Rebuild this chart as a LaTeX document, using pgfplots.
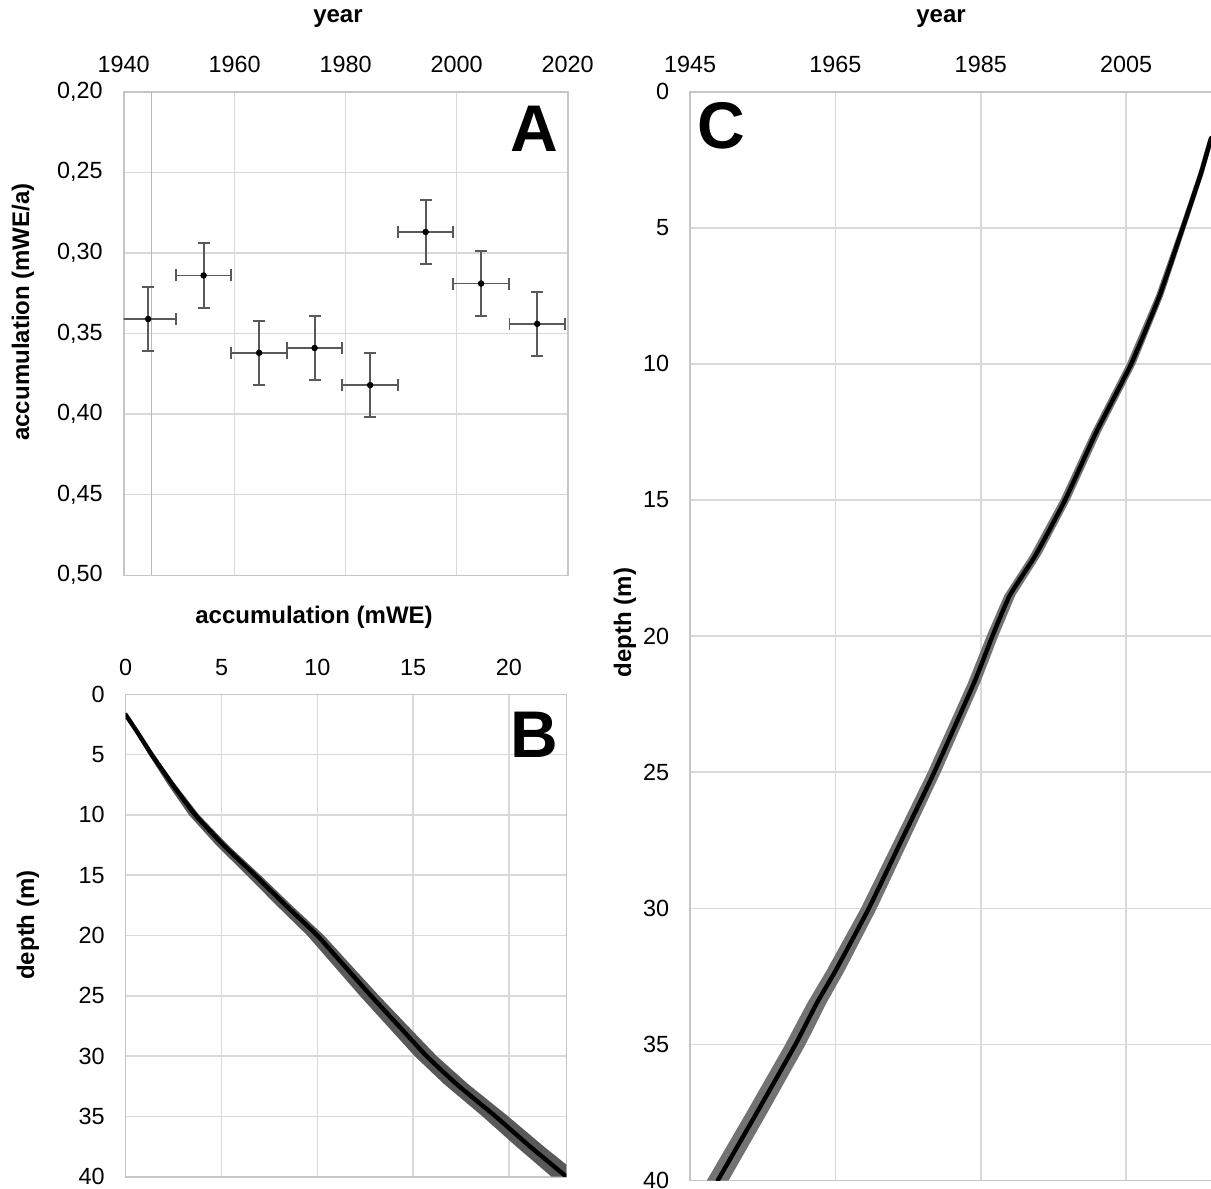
\documentclass[border=0pt]{standalone}
\usepackage{fontspec}
\setmainfont{Liberation Sans}
\usepackage{pgfplots}
\pgfplotsset{compat=1.18}

\pgfplotsset{
  panel/.style={
    scale only axis,
    axis line style={draw=gray!45, line width=0.8pt},
    grid=major,
    grid style={draw=gray!30, line width=0.75pt},
    major tick length=0pt,
    tick style={draw=none},
    xticklabel pos=right,
    tick label style={font=\fontsize{11.7}{13}\selectfont, text=black},
    xticklabel style={yshift=6pt},
    yticklabel style={xshift=-7pt},
    y dir=reverse,
    /pgf/number format/assume math mode=true,
  }
}

\begin{document}
\begin{tikzpicture}
\path[use as bounding box] (0pt,0pt) rectangle (605.5pt,-594.5pt);

% ---------------- Panel A ----------------
\begin{axis}[panel,
  at={(61.85pt,-287.65pt)}, anchor=south west,
  width=222pt, height=241.8pt,
  xmin=1940, xmax=2020, xtick={1940,1960,1980,2000,2020},
  ymin=0.2, ymax=0.5, ytick={0.20,0.25,0.30,0.35,0.40,0.45,0.50},
  xticklabel style={/pgf/number format/1000 sep={}},
  yticklabel style={/pgf/number format/.cd, fixed, fixed zerofill, precision=2, use comma},
]
\addplot[gray!55, line width=0.8pt] coordinates {(1945,0.2) (1945,0.5)};
\addplot[only marks, mark=*, mark size=1.4pt, black,
  error bars/.cd, x dir=both, x explicit, y dir=both, y explicit,
  error bar style={draw=black!65, line width=0.9pt},
  error mark options={draw=black!65, line width=0.9pt, mark size=3pt, rotate=90}]
 table[x=x, y=y, x error=ex, y error=ey] {
x ex y ey
1944.4 5 0.341 0.02
1954.4 5 0.314 0.02
1964.4 5 0.362 0.02
1974.4 5 0.359 0.02
1984.4 5 0.382 0.02
1994.4 5 0.287 0.02
2004.4 5 0.319 0.02
2014.5 5 0.344 0.02
};
\end{axis}

% ---------------- Panel B ----------------
\begin{axis}[panel,
  at={(62.85pt,-588.35pt)}, anchor=south west,
  width=220.4pt, height=241.2pt,
  xmin=0, xmax=23, xtick={0,5,10,15,20},
  ymin=0, ymax=40, ytick={0,5,...,40},
]
% uncertainty band: upper edge downwards, lower edge upwards
\addplot[fill=black!65, draw=none] table {
x y
0.05 1.7
0.63 3
1.48 5
2.61 7.5
3.83 10
5.34 12.5
7.03 15
8.66 17.5
10.35 20
11.78 22.5
13.22 25
14.72 27.5
16.23 30
17.85 32.3
19.96 35
21.82 37.5
23.78 40
22.22 40
20.38 37.5
18.62 35
16.6 32.3
15.08 30
13.65 27.5
12.22 25
10.85 22.5
9.48 20
7.87 17.5
6.31 15
4.72 12.5
3.3 10
2.21 7.5
1.2 5
0.45 3
-0.05 1.7
};
\addplot[black, line width=2.2pt, line cap=round, line join=round, smooth, tension=0.3] table {
x y
0 1.7
0.55 3
1.36 5
2.45 7.5
3.63 10
5.1 12.5
6.75 15
8.35 17.5
10.0 20
11.4 22.5
12.8 25
14.25 27.5
15.7 30
17.25 32.3
19.3 35
21.1 37.5
23.0 40
};
\end{axis}

% ---------------- Panel C ----------------
\begin{axis}[panel,
  at={(345.05pt,-590.25pt)}, anchor=south west,
  width=261.6pt, height=544.4pt,
  xmin=1945, xmax=2017, xtick={1945,1965,1985,2005},
  ymin=0, ymax=40, ytick={0,5,...,40},
  xticklabel style={/pgf/number format/1000 sep={}},
]
\addplot[fill=black!55, draw=none] table {
x y
2017.05 1.7
2015.67 3
2013.2 5
2010.1 7.5
2006.3 10
2001.52 12.5
1997.25 15
1993.32 17
1989.76 18.5
1987.4 20
1984.94 21.7
1979.5 25
1975.1 27.5
1970.7 30
1966.25 32.3
1963.72 33.5
1960.9 35
1955.65 37.5
1950.3 40
1947.3 40
1952.75 37.5
1958.1 35
1961.08 33.5
1963.75 32.3
1968.5 30
1973.1 27.5
1977.7 25
1983.26 21.7
1985.8 20
1988.24 18.5
1991.88 17
1995.95 15
2000.28 12.5
2005.1 10
2009.1 7.5
2012.4 5
2014.93 3
2016.35 1.7
};
\addplot[black, line width=2.2pt, line cap=round, line join=round, smooth, tension=0.3] table {
x y
2016.7 1.7
2015.3 3
2012.8 5
2009.6 7.5
2005.7 10
2000.9 12.5
1996.6 15
1992.6 17
1989.0 18.5
1986.6 20
1984.1 21.7
1978.6 25
1974.1 27.5
1969.6 30
1965.0 32.3
1962.4 33.5
1959.5 35
1954.2 37.5
1948.8 40
};
\end{axis}

% ---------------- Labels ----------------
\begin{scope}[every node/.style={font=\fontsize{12}{14}\selectfont\bfseries, inner sep=0pt}]
\node[anchor=base] at (169pt,-11.25pt) {year};
\node[anchor=base] at (470.5pt,-11.25pt) {year};
\node[anchor=base] at (157pt,-311.85pt) {accumulation (mWE)};
\node[rotate=90] at (11.5pt,-156pt) {accumulation (mWE/a)};
\node[rotate=90] at (14pt,-462.5pt) {depth (m)};
\node[rotate=90] at (312.5pt,-311.25pt) {depth (m)};
\end{scope}
\begin{scope}[every node/.style={font=\fontsize{33}{36}\selectfont\bfseries, inner sep=0pt}]
\node at (267pt,-64.5pt) {A};
\node at (267pt,-367.5pt) {B};
\node at (360.5pt,-63pt) {C};
\end{scope}
\end{tikzpicture}
\end{document}
